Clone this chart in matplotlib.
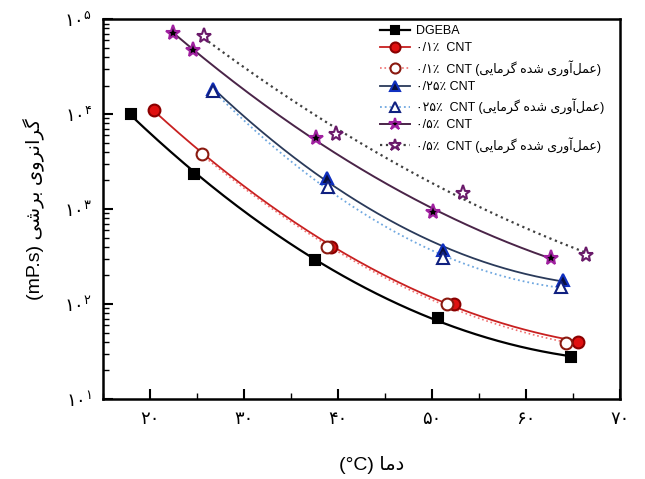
import numpy as np
import matplotlib
matplotlib.use('Agg')
import matplotlib.pyplot as plt
from matplotlib.lines import Line2D
from matplotlib.ticker import MultipleLocator, FixedLocator, LogLocator, FuncFormatter, NullFormatter

# temperature (C) vs shear viscosity (mP.s)
t_dgeba = [18.0, 24.7, 37.5, 50.6, 64.8]
v_dgeba = [10000, 2340, 288, 71, 27.5]

t_cnt01 = [20.4, 39.2, 52.3, 65.5]
v_cnt01 = [10960, 398, 100, 39.8]
t_cnt01_h = [25.5, 38.8, 51.6, 64.3]
v_cnt01_h = [3800, 398, 100, 38.9]

t_cnt025 = [26.7, 38.8, 51.2, 63.9]
v_cnt025 = [18200, 2140, 372, 178]
t_cnt025_h = [26.7, 38.9, 51.2, 63.7]
v_cnt025_h = [17400, 1700, 309, 151]

t_cnt05 = [22.4, 24.6, 37.7, 50.1, 62.7]
v_cnt05 = [70800, 47900, 5620, 933, 309]
t_cnt05_h = [25.7, 39.8, 53.3, 66.4]
v_cnt05_h = [66100, 6170, 1480, 331]

x_ticks = [20, 30, 40, 50, 60, 70]
y_ticks = [10, 100, 1000, 10000, 100000]

# minimal persian shaping (matplotlib has no bidi / joining support)
FORMS = {
    'ا': ('\ufe8d', '\ufe8e', None, None),
    'آ': ('\ufe81', '\ufe82', None, None),
    'ب': ('\ufe8f', '\ufe90', '\ufe91', '\ufe92'),
    'د': ('\ufea9', '\ufeaa', None, None),
    'ر': ('\ufead', '\ufeae', None, None),
    'ش': ('\ufeb5', '\ufeb6', '\ufeb7', '\ufeb8'),
    'ع': ('\ufec9', '\ufeca', '\ufecb', '\ufecc'),
    'ل': ('\ufedd', '\ufede', '\ufedf', '\ufee0'),
    'م': ('\ufee1', '\ufee2', '\ufee3', '\ufee4'),
    'ن': ('\ufee5', '\ufee6', '\ufee7', '\ufee8'),
    'ه': ('\ufee9', '\ufeea', '\ufeeb', '\ufeec'),
    'و': ('\ufeed', '\ufeee', None, None),
    'ی': ('\ufbfc', '\ufbfd', '\ufbfe', '\ufbff'),
    'گ': ('\ufb92', '\ufb93', '\ufb94', '\ufb95'),
}


def rtl(s):
    out = []
    for i, c in enumerate(s):
        if c not in FORMS:
            if c != '\u200c':
                out.append(c)
            continue
        iso, fin, ini, med = FORMS[c]
        prev = s[i - 1] if i > 0 else ''
        nxt = s[i + 1] if i + 1 < len(s) else ''
        join_prev = prev in FORMS and FORMS[prev][2] is not None
        join_next = nxt in FORMS and ini is not None
        if join_prev and join_next:
            out.append(med)
        elif join_prev:
            out.append(fin)
        elif join_next:
            out.append(ini)
        else:
            out.append(iso)
    return ''.join(reversed(out))


def fa_digits(s):
    return s.translate(str.maketrans('0123456789', '۰۱۲۳۴۵۶۷۸۹'))


heat = '(' + rtl('عمل\u200cآوری شده گرمایی') + ')'
labels = ['DGEBA', '۰/۱٪  CNT', '۰/۱٪  CNT ' + heat, '۰/۲۵٪ CNT', '۰۲۵٪  CNT ' + heat,
          '۰/۵٪  CNT', '۰/۵٪  CNT ' + heat]

series = [
    (t_dgeba, v_dgeba, 's', 'black', 'black', 'black', '-', 1.6, 7.5),
    (t_cnt01, v_cnt01, 'o', '#e01010', '#8a0000', '#c82020', '-', 1.3, 8.5),
    (t_cnt01_h, v_cnt01_h, 'o', 'white', '#8a1a10', '#f07070', ':', 1.2, 8.5),
    (t_cnt025, v_cnt025, '^', '#0a1040', '#1030c0', '#2a3a5a', '-', 1.3, 9),
    (t_cnt025_h, v_cnt025_h, '^', 'white', '#102080', '#70a8e0', ':', 1.3, 9),
    (t_cnt05, v_cnt05, '*', 'black', '#a020a0', '#4a2448', '-', 1.4, 11),
    (t_cnt05_h, v_cnt05_h, '*', 'white', '#6a1a6a', '#404040', ':', 1.6, 11),
]

fig = plt.figure(figsize=(6.45, 4.79), dpi=100)
ax = fig.add_axes([0.160, 0.167, 0.801, 0.793])
ax.set_yscale('log')

handles = []
for t, v, mk, fc, ec, lc, ls, lw, ms in series:
    t = np.array(t)
    lv = np.log10(v)
    p = np.polyfit(t, lv, 2)
    tt = np.linspace(t.min(), t.max(), 200)
    ax.plot(tt, 10 ** np.polyval(p, tt), color=lc, ls=ls, lw=lw, zorder=2)
    ax.plot(t, v, ls='none', marker=mk, ms=ms, mfc=fc, mec=ec, mew=1.5, zorder=3)
    handles.append(Line2D([], [], color=lc, ls=ls, lw=lw, marker=mk, ms=ms * 0.85,
                          mfc=fc, mec=ec, mew=1.5))

ax.set_xlim(15, 70)
ax.set_ylim(10, 100000)

ax.xaxis.set_major_locator(FixedLocator(x_ticks))
ax.xaxis.set_minor_locator(MultipleLocator(5))
ax.xaxis.set_major_formatter(FuncFormatter(lambda x, pos: fa_digits('%d' % x)))
ax.yaxis.set_major_locator(FixedLocator(y_ticks))
ax.yaxis.set_minor_locator(LogLocator(base=10, subs=np.arange(2, 10)))
ax.yaxis.set_minor_formatter(NullFormatter())
ax.yaxis.set_major_formatter(FuncFormatter(
    lambda y, pos: r'$\mathdefault{۱۰^{%s}}$' % fa_digits('%d' % round(np.log10(y)))))

ax.tick_params(which='both', direction='in', top=False, right=False)
ax.tick_params(which='major', length=7, width=1.5, labelsize=13, pad=8)
ax.tick_params(which='minor', length=4, width=1.0)
for sp in ax.spines.values():
    sp.set_linewidth(1.8)

ax.set_ylabel('(mP.s) ' + rtl('گرانروی برشی'), fontsize=14, labelpad=14,
              family=['Liberation Sans', 'DejaVu Sans'])
fig.text(372 / 645, 1 - 465 / 479, '(°C) ' + rtl('دما'), fontsize=14, ha='center', va='center',
         family=['Liberation Sans', 'DejaVu Sans'])

ax.legend(handles, labels, loc='upper left', bbox_to_anchor=(0.535, 0.984), frameon=False,
          borderaxespad=0, borderpad=0, handlelength=2.4, handletextpad=0.5, labelspacing=0.42,
          prop={'family': ['Liberation Sans', 'DejaVu Sans'], 'size': 9})

fig.savefig('out.png', dpi=100)
